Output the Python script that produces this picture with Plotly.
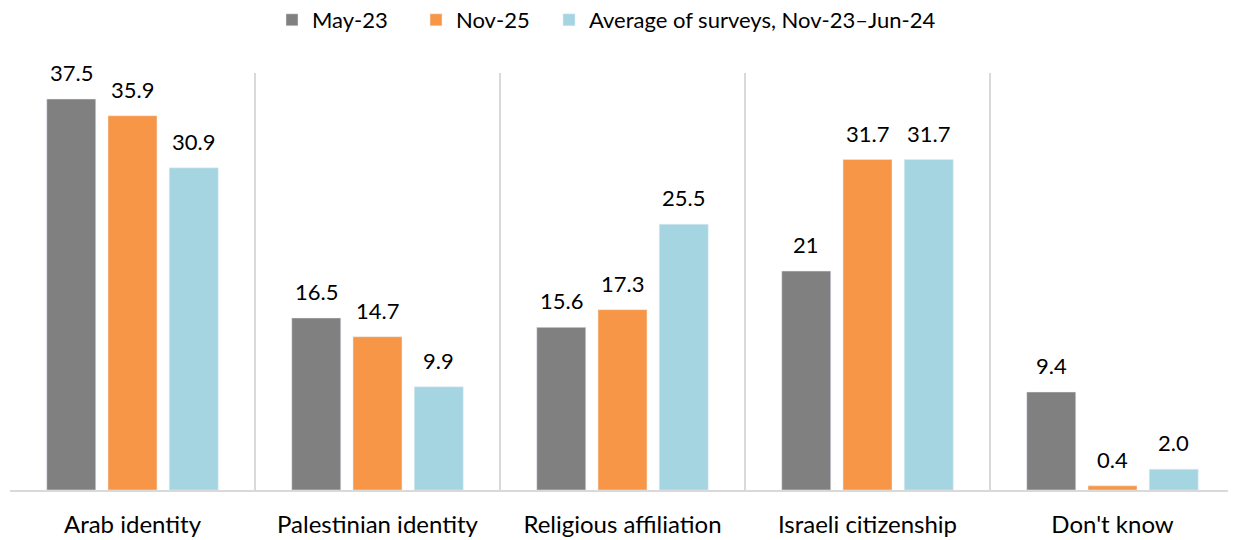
import plotly.graph_objects as go

categories = ["Arab identity", "Palestinian identity", "Religious affiliation",
              "Israeli citizenship", "Don't know"]
may23 = [37.5, 16.5, 15.6, 21, 9.4]
nov25 = [35.9, 14.7, 17.3, 31.7, 0.4]
avg_surveys = [30.9, 9.9, 25.5, 31.7, 2.0]

may23_labels = ["37.5", "16.5", "15.6", "21", "9.4"]
nov25_labels = ["35.9", "14.7", "17.3", "31.7", "0.4"]
avg_labels = ["30.9", "9.9", "25.5", "31.7", "2.0"]

series = [
    ("May-23", may23, may23_labels, "#808080"),
    ("Nov-25", nov25, nov25_labels, "#F79646"),
    ("Average of surveys, Nov-23\u2013Jun-24", avg_surveys, avg_labels, "#A6D5E2"),
]

font = "Lato, 'Open Sans', sans-serif"

# page body has an 8px margin, so the figure is drawn a bit smaller
W, H = 1228, 532
ml, mr, mt, mb = 2, 1, 65, 50
bargap = 0.25
plot_w = W - ml - mr
plot_h = H - mt - mb

# each legend entry sits in its own legend so the spacing can match
legend_px = [278, 422, 555]
legend_names = ["legend", "legend2", "legend3"]

fig = go.Figure()
for (name, vals, labels, color), lg in zip(series, legend_names):
    fig.add_trace(go.Bar(x=categories, y=vals, name=name, marker_color=color,
                         legend=lg, showlegend=True))

# value labels, lifted a little above the bars
slot = plot_w / len(categories) * (1 - bargap) / len(series)
annotations = []
for i, (name, vals, labels, color) in enumerate(series):
    for cat, v, lab in zip(categories, vals, labels):
        annotations.append(dict(
            x=cat, y=v, text=lab, showarrow=False, xref="x", yref="y",
            yanchor="bottom", xshift=(i - 1) * slot, yshift=11,
            font=dict(size=22, color="#000000", family=font),
        ))

legends = {}
for lg, px in zip(legend_names, legend_px):
    legends[lg] = dict(orientation="h", x=(px - 16) / plot_w, xanchor="left",
                       y=1 + (mt - 12) / plot_h, yanchor="middle",
                       font=dict(size=22), itemwidth=30,
                       bgcolor="rgba(0,0,0,0)")

fig.update_layout(
    width=W, height=H,
    margin=dict(l=ml, r=mr, t=mt, b=mb, autoexpand=False),
    barmode="group", bargap=bargap, bargroupgap=0.2,
    plot_bgcolor="white", paper_bgcolor="white",
    font=dict(family=font, size=22, color="#000000"),
    showlegend=True,
    annotations=annotations,
    **legends,
)
fig.update_xaxes(tickson="boundaries", showgrid=True, gridcolor="#D9D9D9", gridwidth=2,
                 showline=True, linecolor="#D9D9D9", linewidth=2, mirror=False,
                 ticks="", tickfont=dict(size=24), automargin=False,
                 ticklabelstandoff=12)
fig.update_yaxes(range=[0, 40], visible=False, showgrid=False)

fig.write_html("out.html")
